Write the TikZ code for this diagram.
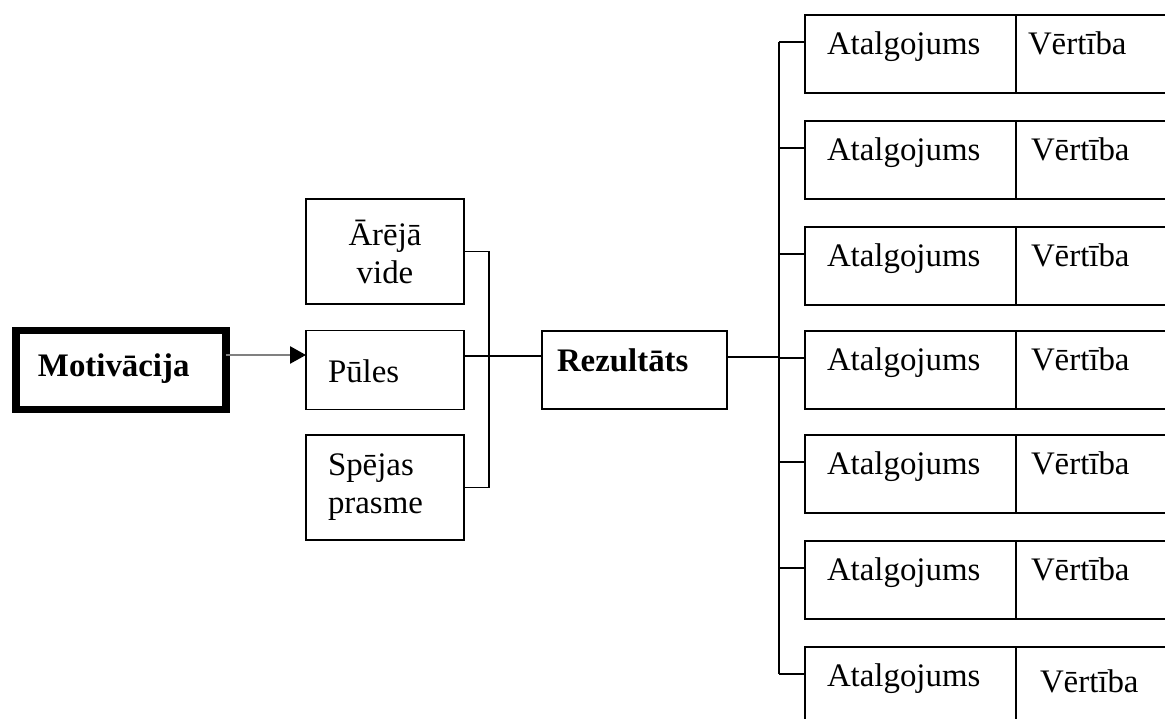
\documentclass[tikz,border=0pt]{standalone}
\usepackage{fontspec}
\setmainfont{Liberation Serif}
\usetikzlibrary{arrows.meta}

\tikzstyle{every node}=[font=\fontsize{18.7}{21.6}\selectfont]
\tikzstyle{box}=[draw=black,line width=1.1pt,outer sep=0pt,rectangle]
\tikzstyle{cell}=[box,minimum height=1.56cm,inner ysep=0pt,text height=0.8cm,text depth=0.76cm,align=left]
\tikzstyle{arrow}=[draw=gray,line width=1.5pt,-{Triangle[black,length=0.32cm,width=0.34cm]}]

\begin{document}
\begin{tikzpicture}[scale=1,line width=1.1pt]
\useasboundingbox (0,0) rectangle (23.3,14.38);
\clip (0,0) rectangle (23.3,14.38);

\node[box,line width=4.5pt,minimum width=4.2cm,minimum height=1.58cm,inner ysep=0pt,inner xsep=0.44cm,text width=3.32cm,text height=0.92cm,text depth=0.66cm,align=left,font=\fontsize{18.7}{21.6}\selectfont\bfseries] (MOT) at (2.42,6.98) {Motivācija};

\node[box,minimum width=3.16cm,minimum height=2.1cm,align=center] (ARE) at (7.7,9.35) {Ārējā\\vide};
\node[box,minimum width=3.16cm,minimum height=1.58cm,inner ysep=0pt,inner xsep=0.44cm,text width=2.28cm,text height=1.04cm,text depth=0.54cm,align=left] (PUL) at (7.7,6.98) {Pūles};
\node[box,minimum width=3.16cm,minimum height=2.1cm,inner xsep=0.44cm,text width=2.28cm,align=left] (SPE) at (7.7,4.63) {Spējas\\prasme};

\node[box,minimum width=3.7cm,minimum height=1.56cm,inner ysep=0pt,inner xsep=0.3cm,text width=3.1cm,text height=0.82cm,text depth=0.74cm,align=left,font=\fontsize{18.7}{21.6}\selectfont\bfseries] (REZ) at (12.69,6.98) {Rezultāts};

\node[cell,inner xsep=0.44cm,text width=3.34cm] (A1) at (18.21,13.30) {Atalgojums};
\node[cell,inner xsep=0.44cm,text width=3.34cm] (A2) at (18.21,11.18) {Atalgojums};
\node[cell,inner xsep=0.44cm,text width=3.34cm] (A3) at (18.21,9.06) {Atalgojums};
\node[cell,inner xsep=0.44cm,text width=3.34cm] (A4) at (18.21,6.98) {Atalgojums};
\node[cell,inner xsep=0.44cm,text width=3.34cm] (A5) at (18.21,4.90) {Atalgojums};
\node[cell,inner xsep=0.44cm,text width=3.34cm] (A6) at (18.21,2.78) {Atalgojums};
\node[cell,inner xsep=0.44cm,text width=3.34cm] (A7) at (18.21,0.66) {Atalgojums};

\node[cell,anchor=west,inner xsep=0.24cm,text width=3.6cm] (V1) at (A1.east) {Vērtība};
\node[cell,anchor=west,inner xsep=0.3cm,text width=3.48cm] (V2) at (A2.east) {Vērtība};
\node[cell,anchor=west,inner xsep=0.3cm,text width=3.48cm] (V3) at (A3.east) {Vērtība};
\node[cell,anchor=west,inner xsep=0.3cm,text width=3.48cm] (V4) at (A4.east) {Vērtība};
\node[cell,anchor=west,inner xsep=0.3cm,text width=3.48cm] (V5) at (A5.east) {Vērtība};
\node[cell,anchor=west,inner xsep=0.3cm,text width=3.48cm] (V6) at (A6.east) {Vērtība};
\node[cell,anchor=west,inner xsep=0.48cm,text width=3.12cm,text height=0.92cm,text depth=0.64cm] (V7) at (A7.east) {Vērtība};

\draw[arrow] ([yshift=0.3cm]MOT.east) -- ([yshift=0.3cm]PUL.west);

\draw (ARE.east) -- ++(0.5,0) |- (SPE.east);
\draw ([yshift=0.28cm]PUL.east) -- ([yshift=0.28cm]REZ.west);

\draw ([yshift=0.26cm]REZ.east) -- ++(1.04,0);
\draw ([yshift=0.24cm]A1.west) -- ++(-0.52,0) coordinate (T1);
\draw ([yshift=0.24cm]A2.west) -- ++(-0.52,0);
\draw ([yshift=0.24cm]A3.west) -- ++(-0.52,0);
\draw ([yshift=0.24cm]A4.west) -- ++(-0.52,0);
\draw ([yshift=0.24cm]A5.west) -- ++(-0.52,0);
\draw ([yshift=0.24cm]A6.west) -- ++(-0.52,0);
\draw ([yshift=0.24cm]A7.west) -- ++(-0.52,0) coordinate (T7);
\draw (T1) -- (T7);
\end{tikzpicture}
\end{document}
